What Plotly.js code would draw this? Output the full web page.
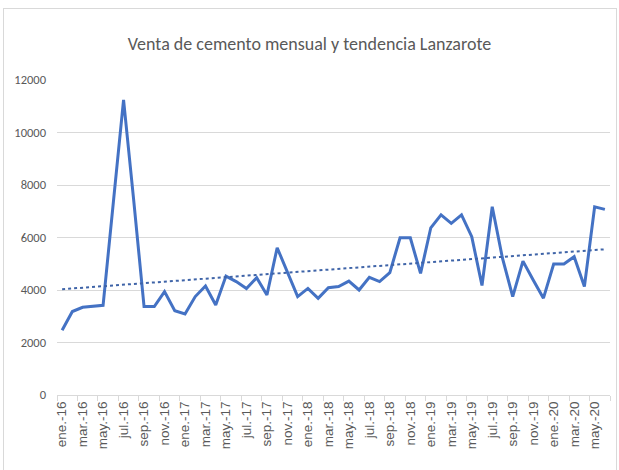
<!DOCTYPE html>
<html>
<head>
<meta charset="utf-8">
<script src="https://cdn.plot.ly/plotly-3.0.1.min.js"></script>
<style>
html,body{margin:0;padding:0;background:#fff;overflow:hidden;}
#frame{position:absolute;left:3px;top:8px;width:614px;height:480px;border:1px solid #d9d9d9;box-sizing:border-box;}
#chart{position:absolute;left:0;top:0;width:619px;height:470px;}
</style>
</head>
<body>
<div id="frame"></div>
<div id="chart"></div>
<script>
const months = ["ene.","feb.","mar.","abr.","may.","jun.","jul.","ago.","sep.","oct.","nov.","dic."];
const years = ["16","17","18","19","20"];
const categories = [];
for (const y of years) for (const m of months) categories.push(m + "-" + y);
categories.length = 54; // ene.-16 .. jun.-20

const ventas = [
  2470, 3180, 3340, 3390, 3415, 7330, 11240, 7380, 3370, 3370, 3940, 3210,
  3090, 3750, 4150, 3430, 4530, 4320, 4060, 4470, 3810, 5610, 4700, 3750,
  4060, 3680, 4090, 4130, 4340, 4000, 4480, 4320, 4660, 5990, 5990, 4630,
  6370, 6860, 6540, 6860, 6030, 4170, 7170, 5210, 3750, 5100, 4380, 3690,
  4990, 4990, 5270, 4130, 7170, 7070
];

const tendenciaInicio = 4030;
const tendenciaFin = 5550;

const yTicks = [0, 2000, 4000, 6000, 8000, 10000, 12000];

const idx = categories.map((_, i) => i);
const tickIdx = idx.filter(i => i % 2 === 0);
const tickText = tickIdx.map(i => categories[i]);

const traces = [
  {
    x: idx, y: ventas, type: "scatter", mode: "lines",
    line: {color: "#4472C4", width: 3}, hoverinfo: "skip"
  },
  {
    x: [0, categories.length - 1], y: [tendenciaInicio, tendenciaFin],
    type: "scatter", mode: "lines",
    line: {color: "#3f64a8", width: 2, dash: "dot"}, hoverinfo: "skip"
  }
];

const font = "Carlito, 'Liberation Sans Narrow', 'Open Sans', sans-serif";

const layout = {
  width: 619, height: 470,
  paper_bgcolor: "rgba(0,0,0,0)", plot_bgcolor: "rgba(0,0,0,0)",
  margin: {l: 56.5, r: 8.5, t: 80, b: 75},
  showlegend: false,
  title: {
    text: "Venta de cemento mensual y tendencia Lanzarote",
    font: {family: font, size: 18, color: "#595959"},
    x: 0.5, xanchor: "center", y: 0.908, yanchor: "middle"
  },
  xaxis: {
    range: [-0.5, categories.length - 0.5],
    tickmode: "array", tickvals: tickIdx, ticktext: tickText,
    tickangle: -90, ticks: "", showgrid: false, zeroline: false,
    showline: true, linecolor: "#d9d9d9", linewidth: 1,
    tickfont: {family: "'Liberation Sans', Arial, sans-serif", size: 13.5, color: "#595959"},
    minor: {tick0: -0.5, dtick: 2, ticks: "outside", ticklen: 5, tickcolor: "#d9d9d9", tickwidth: 1, showgrid: false}
  },
  yaxis: {
    range: [0, 12000], tickmode: "array", tickvals: yTicks,
    ticktext: yTicks.map(String),
    showgrid: true, gridcolor: "#d9d9d9", gridwidth: 1,
    zeroline: false, showline: false, ticks: "",
    ticklabelstandoff: 10,
    tickfont: {family: font, size: 12.5, color: "#595959"}
  }
};

Plotly.newPlot("chart", traces, layout, {displayModeBar: false, staticPlot: true});
</script>
</body>
</html>
